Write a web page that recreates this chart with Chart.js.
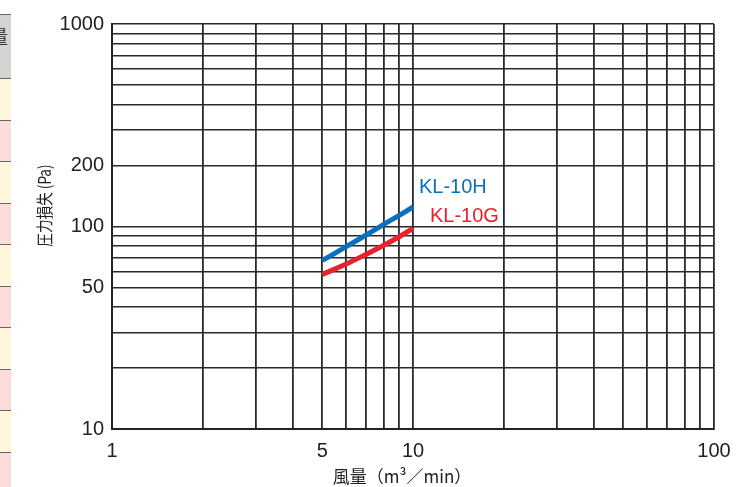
<!DOCTYPE html>
<html lang="ja">
<head>
<meta charset="utf-8">
<title>圧力損失</title>
<script src="https://cdn.jsdelivr.net/npm/chart.js@4.4.1/dist/chart.umd.min.js"></script>
<style>
    html, body { margin: 0; padding: 0; background: #fff; }
    #wrap { position: relative; width: 750px; height: 487px; overflow: hidden; }
    #side { position: absolute; left: 0; top: 14px; width: 11px; }
    .cell { box-sizing: border-box; border-top: 1px solid #666; overflow: hidden; position: relative; }
    .cell span { position: absolute; right: 3px; top: 8px; font: 18px "Noto Sans CJK JP", sans-serif; color: #333; }
    #chart { position: absolute; left: 0; top: 0; }
</style>
</head>
<body>
<div id="wrap">
    <div id="side"></div>
    <canvas id="chart" width="750" height="487"></canvas>
</div>
<script>
"use strict"

// 風量 (m3/min) と 圧力損失 (Pa)
const flow_points = [5, 6, 7, 8, 9, 10]
const kl10h_values = [68, 79.5, 91, 102.5, 113.5, 125]
const kl10g_values = [58, 65.3, 73, 80.8, 89, 98]

const series_names = ['KL-10H', 'KL-10G']
const series_colors = ['#0a6fbd', '#e8222c']

const flow_ticks = [1, 2, 3, 4, 5, 6, 7, 8, 9, 10, 20, 30, 40, 50, 60, 70, 80, 90, 100]
const flow_labels = [1, 5, 10, 100]
const pressure_ticks = [10, 20, 30, 40, 50, 60, 70, 80, 90, 100, 200, 300, 400, 500, 600, 700, 800, 900, 1000]
const pressure_labels = [10, 50, 100, 200, 1000]

const x_title = '風量（m³／min）'
const y_title = '圧力損失 (Pa)'

// 左端の表の切れ端
const side = document.getElementById('side')
const side_cells = [['#d6d3d3', 64, '量'], ['#fef7dc', 41.5], ['#fddcdc', 41.5], ['#fef7dc', 41.5], ['#fddcdc', 41.5],
    ['#fef7dc', 41.5], ['#fddcdc', 41.5], ['#fef7dc', 41.5], ['#fddcdc', 41.5], ['#fef7dc', 41.5], ['#fddcdc', 60]]
side_cells.forEach(c => {
    const d = document.createElement('div')
    d.className = 'cell'
    d.style.background = c[0]
    d.style.height = c[1] + 'px'
    if (c[2]) d.innerHTML = `<span>${c[2]}</span>`
    side.appendChild(d)
})

const num_font = { family: '"Liberation Sans", Arial, sans-serif', size: 20 }
const jp_font = '"Noto Sans CJK JP", "Liberation Sans", sans-serif'

const to_points = (values) => flow_points.map((x, i) => ({ x: x, y: values[i] }))

const labels_plugin = {
    id: 'labels_plugin',
    afterDatasetsDraw(chart) {
        const ctx = chart.ctx
        const area = chart.chartArea
        const offsets = [[6, -19], [17, -11.5]]
        ctx.save()
        ctx.font = `20px ${num_font.family}`
        ctx.textBaseline = 'middle'
        ctx.textAlign = 'left'
        chart.data.datasets.forEach((ds, i) => {
            const pts = chart.getDatasetMeta(i).data
            const last = pts[pts.length - 1]
            ctx.fillStyle = ds.borderColor
            ctx.fillText(ds.label, last.x + offsets[i][0], last.y + offsets[i][1])
        })

        // 軸タイトル
        ctx.fillStyle = '#222'
        ctx.textAlign = 'center'
        ctx.font = `17px ${jp_font}`
        ctx.fillText(x_title, (area.left + area.right) / 2 - 11, 477)

        ctx.translate(45, (area.top + area.bottom) / 2 - 21)
        ctx.rotate(-Math.PI / 2)
        ctx.scale(0.8, 1)
        ctx.font = `17px ${jp_font}`
        ctx.fillText(y_title, 0, 0)
        ctx.restore()
    }
}

new Chart(document.getElementById('chart').getContext('2d'), {
    type: 'line',
    data: {
        datasets: [kl10h_values, kl10g_values].map((vals, i) => ({
            label: series_names[i],
            data: to_points(vals),
            borderColor: series_colors[i],
            backgroundColor: series_colors[i],
            borderWidth: 5,
            borderCapStyle: 'butt',
            pointRadius: 0,
            tension: 0.4,
            fill: false
        }))
    },
    options: {
        responsive: false,
        animation: false,
        devicePixelRatio: 1,
        layout: { padding: { top: 24, right: 36, left: 0, bottom: 0 } },
        plugins: {
            legend: { display: false },
            tooltip: { enabled: false }
        },
        scales: {
            x: {
                type: 'logarithmic',
                min: 1,
                max: 100,
                afterBuildTicks: (axis) => { axis.ticks = flow_ticks.map(v => ({ value: v })) },
                afterFit: (scale) => { scale.height = 58 },
                ticks: {
                    autoSkip: false,
                    maxRotation: 0,
                    padding: 10,
                    color: '#222',
                    font: num_font,
                    callback: (v) => flow_labels.includes(v) ? String(v) : ''
                },
                grid: { color: '#2a2a2a', lineWidth: 1.8, drawTicks: false },
                border: { color: '#222', width: 2 }
            },
            y: {
                type: 'logarithmic',
                min: 10,
                max: 1000,
                afterBuildTicks: (axis) => { axis.ticks = pressure_ticks.map(v => ({ value: v })) },
                afterFit: (scale) => { scale.width = 112 },
                ticks: {
                    autoSkip: false,
                    padding: 8,
                    color: '#222',
                    font: num_font,
                    callback: (v) => pressure_labels.includes(v) ? String(v) : ''
                },
                grid: { color: '#2a2a2a', lineWidth: 1.5, drawTicks: false },
                border: { color: '#222', width: 2 }
            }
        }
    },
    plugins: [labels_plugin]
})
</script>
</body>
</html>
